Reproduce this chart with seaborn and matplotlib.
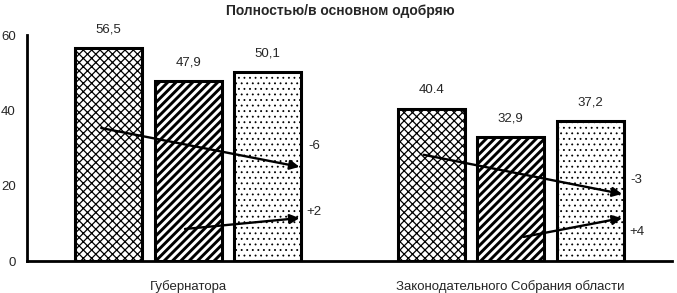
import matplotlib
matplotlib.use('Agg')
import matplotlib.pyplot as plt
import seaborn as sns
import pandas as pd

# data
groups = ['Губернатора', 'Законодательного Собрания области']
series = ['s1', 's2', 's3']
values = {
    's1': [56.5, 40.4],
    's2': [47.9, 32.9],
    's3': [50.1, 37.2],
}
value_labels = {
    's1': ['56,5', '40.4'],
    's2': ['47,9', '32,9'],
    's3': ['50,1', '37,2'],
}
# change arrows: (start y, end y, label) per group
arrows_down = [(35.3, 25.0, '-6'), (28.2, 17.8, '-3')]
arrows_up = [(8.5, 11.4, '+2'), (6.4, 11.4, '+4')]
label_y_down = [30.5, 21.5]
label_y_up = [13.0, 7.7]

sns.set_style('white')
plt.rcParams['font.family'] = ['Liberation Sans Narrow', 'Liberation Sans', 'DejaVu Sans']

rows = []
for s in series:
    for g, v in zip(groups, values[s]):
        rows.append({'group': g, 'series': s, 'value': v})
df = pd.DataFrame(rows)

fig = plt.figure(figsize=(6.77, 2.93), dpi=100)
ax = fig.add_axes([27 / 677, 1 - 261 / 293, 645 / 677, 226 / 293])

sns.barplot(data=df, x='group', y='value', hue='series', hue_order=series,
            palette=['white'] * 3, edgecolor='black', linewidth=2.2,
            width=0.74, gap=0.157, legend=False, ax=ax)

hatches = ['xxxx', '////', '...']
hatch_lw = [0.9, 2.1, 0.6]
for cont, s, h, hl in zip(ax.containers, series, hatches, hatch_lw):
    for bar in cont:
        bar.set_hatch(h)
        try:
            bar.set_hatch_linewidth(hl)
        except AttributeError:
            plt.rcParams['hatch.linewidth'] = hl
    ax.bar_label(cont, labels=value_labels[s], padding=9, fontsize=9.5)

arrow_kw = dict(arrowstyle='-|>', color='black', lw=1.7, mutation_scale=14,
                shrinkA=0, shrinkB=0)
for i in range(len(groups)):
    y0, y1, txt = arrows_down[i]
    ax.annotate('', xy=(i + 0.345, y1), xytext=(i - 0.27, y0), arrowprops=arrow_kw)
    ax.text(i + 0.39, label_y_down[i], txt, ha='center', va='center', fontsize=9.5)
    y0, y1, txt = arrows_up[i]
    ax.annotate('', xy=(i + 0.345, y1), xytext=(i + (-0.01 if i == 0 else 0.04), y0),
                arrowprops=arrow_kw)
    ax.text(i + 0.39, label_y_up[i], txt, ha='center', va='center', fontsize=9.5)

ax.set_xlim(-0.5, 1.5)
ax.set_ylim(0, 60)
ax.set_yticks([0, 20, 40, 60])
ax.set_xticks([0, 1])
ax.set_xticklabels(groups, fontsize=9.5)
ax.set_xticks([-0.5, 0.5, 1.5], minor=True)
ax.tick_params(axis='x', which='major', length=0, pad=14)
ax.tick_params(axis='x', which='minor', length=5, width=1.5, direction='out', color='black')
ax.tick_params(axis='y', length=5, width=1.5, direction='out', color='black', labelsize=9.5, pad=3)
ax.set_xlabel('')
ax.set_ylabel('')
for side in ['top', 'right']:
    ax.spines[side].set_visible(False)
for side in ['left', 'bottom']:
    ax.spines[side].set_color('black')
    ax.spines[side].set_linewidth(2)

fig.text(340 / 677, 1 - 11 / 293, 'Полностью/в основном одобряю', ha='center', va='center',
         fontsize=10, fontweight='bold')

fig.savefig('out.png', dpi=100)
